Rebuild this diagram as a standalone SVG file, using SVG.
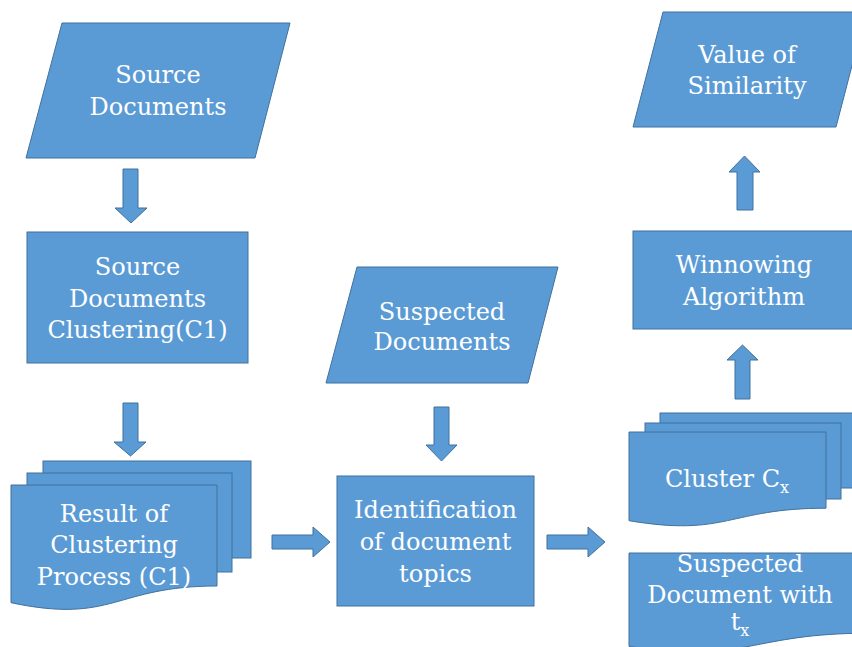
<svg xmlns="http://www.w3.org/2000/svg" width="852" height="647" viewBox="0 0 852 647">
<style>
.s{fill:#5B9BD5;stroke:#41719C;stroke-width:1}
.a{fill:#5B9BD5;stroke:#41719C;stroke-width:1}
.t{fill:#FFFFFF;font-family:"DejaVu Serif","Liberation Serif",serif;font-size:24px;text-anchor:middle}
.sub{font-size:16px}
</style>
<rect width="852" height="647" fill="#FFFFFF"/>
<g id="source-documents">
<polygon class="s" points="62,23 290,23 255,158 26,158"/>
<text class="t" x="158" y="83">Source</text>
<text class="t" x="158" y="115">Documents</text>
</g>
<g id="source-clustering">
<rect class="s" x="27" y="232" width="221" height="131"/>
<text class="t" x="137.5" y="275">Source</text>
<text class="t" x="137.5" y="307">Documents</text>
<text class="t" x="137.5" y="338">Clustering(C1)</text>
</g>
<g id="result-clustering">
<rect class="s" x="43" y="461" width="208" height="97"/>
<rect class="s" x="27" y="473" width="205" height="99"/>
<path class="s" d="M11,485 H217 V586 C114,586 114,624.5 11,602.7 Z"/>
<text class="t" x="114" y="522">Result of</text>
<text class="t" x="114" y="553">Clustering</text>
<text class="t" x="114" y="585">Process (C1)</text>
</g>
<g id="suspected-documents">
<polygon class="s" points="357,267 558,267 528,383 326,383"/>
<text class="t" x="442" y="320">Suspected</text>
<text class="t" x="442" y="350">Documents</text>
</g>
<g id="identification">
<rect class="s" x="337" y="476" width="197" height="130"/>
<text class="t" x="435.5" y="518">Identification</text>
<text class="t" x="435.5" y="550">of document</text>
<text class="t" x="435.5" y="582">topics</text>
</g>
<g id="cluster-cx">
<rect class="s" x="660" y="413" width="210" height="75"/>
<rect class="s" x="645" y="423" width="196" height="76"/>
<path class="s" d="M629,432 H826 V508.2 C727.5,508.2 727.5,537.2 629,520.7 Z"/>
<text class="t" x="727" y="487">Cluster C<tspan class="sub" dy="6">x</tspan></text>
</g>
<g id="suspected-document-tx">
<path class="s" d="M629,553 H869 V633.2 C749,633.2 749,663.75 629,646.4 Z"/>
<text class="t" x="740" y="572">Suspected</text>
<text class="t" x="740" y="603">Document with</text>
<text class="t" x="740" y="630">t<tspan class="sub" dy="6">x</tspan></text>
</g>
<g id="winnowing">
<rect class="s" x="633" y="231" width="235" height="98"/>
<text class="t" x="744" y="273">Winnowing</text>
<text class="t" x="744" y="305">Algorithm</text>
</g>
<g id="value-similarity">
<polygon class="s" points="663,12 866,12 836,127 633,127"/>
<text class="t" x="747" y="63">Value of</text>
<text class="t" x="747" y="94">Similarity</text>
</g>
<g id="connectors">
<polygon class="a" points="123,169 138,169 138,208 147,208 131,223 115,208 123,208"/>
<polygon class="a" points="123,403 138,403 138,442 146,442 130.5,456 114,442 123,442"/>
<polygon class="a" points="272,535 313,535 313,527 330,542 313,557 313,549 272,549"/>
<polygon class="a" points="434,407 449,407 449,445 457,445 441.5,461 426,445 434,445"/>
<polygon class="a" points="547,535 588,535 588,527 605,542 588,557 588,549 547,549"/>
<polygon class="a" points="735,399 750,399 750,360 758,360 742.5,345 727,360 735,360"/>
<polygon class="a" points="737,210 753,210 753,172 760,172 744.5,156 729,172 737,172"/>
</g>
</svg>
